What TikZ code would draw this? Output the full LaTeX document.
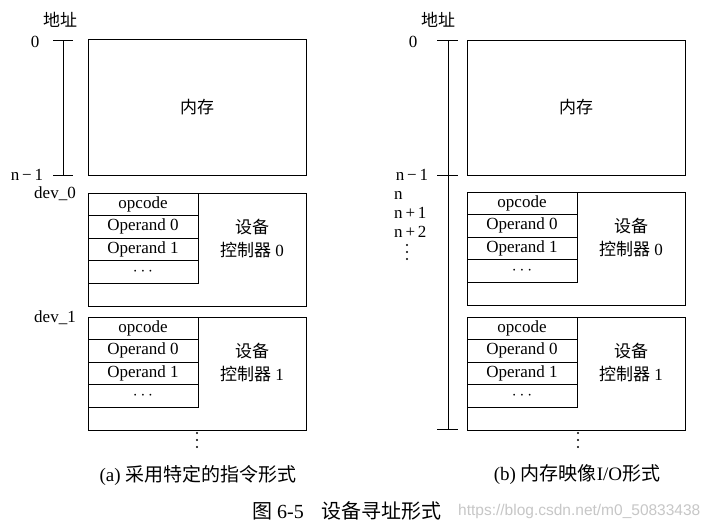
\documentclass[tikz,border=0pt]{standalone}
\usepackage{fontspec}
\setmainfont{Liberation Serif}
\newfontfamily\cjk{Noto Sans CJK SC}
\newfontfamily\wmfont{Liberation Sans}
\newcommand\devblock[3]{%
  \begin{scope}[shift={#3}]
    \node[box, minimum width=218pt, minimum height=113pt] (#1) at (0,0) {};
    \node[row] (#1r1) at (0,0) {opcode};
    \node[row] (#1r2) at (#1r1.south west) {Operand 0};
    \node[row] (#1r3) at (#1r2.south west) {Operand 1};
    \node[row] (#1r4) at (#1r3.south west) {$\cdots$};
    \node[lbl] (#1t1) at (164,34) {\cjk 设备};
    \node[lbl] (#1t2) at (164,57) {{\cjk 控制器} #2};
  \end{scope}}
\newcommand\vdotsat[2]{%
  \foreach \dd in {-7,0,7} {\fill (#1,#2+\dd) circle (1.2pt);}}
\begin{document}
\begin{tikzpicture}[x=1pt,y=-1pt,
  box/.style={draw, line width=1pt, anchor=north west, inner sep=0pt, outer sep=0pt},
  row/.style={box, minimum width=110pt, minimum height=22.5pt, font=\fontsize{17}{17}\selectfont},
  lbl/.style={inner sep=0pt, font=\fontsize{17}{17}\selectfont},
  captext/.style={inner sep=0pt, font=\fontsize{19}{19}\selectfont},
  rule/.style={line width=0.9pt}]
\fill[white] (0,0) rectangle (714,530);
\useasboundingbox (0,0) rectangle (714,530);

% ---------- left panel (a) ----------
\node[lbl] (la) at (60,20) {\cjk 地址};
\node[lbl] (l0) at (35,42) {0};
\node[lbl] (ln1) at (27,175) {n\,−\,1};
\coordinate (lta) at (53,40);  \coordinate (ltb) at (73,40);
\coordinate (lba) at (53,175); \coordinate (lbb) at (73,175);
\coordinate (lvt) at (63,40);  \coordinate (lvb) at (63,175);
\draw[rule] (lta) -- (ltb);
\draw[rule] (lba) -- (lbb);
\draw[rule] (lvt) -- (lvb);
\node[box, minimum width=218pt, minimum height=136pt] (lmem) at (88,39) {};
\node[lbl] (lmemt) at (lmem.center) {\cjk 内存};
\node[lbl] (ldev0) at (55,194) {dev\_0};
\devblock{ld0}{0}{(88,193)}
\node[lbl] (ldev1) at (55,318) {dev\_1};
\devblock{ld1}{1}{(88,317)}
\vdotsat{197}{440}
\node[captext] (capa) at (198,475) {(a) {\cjk 采用特定的指令形式}};

% ---------- right panel (b) ----------
\node[lbl] (ra) at (438,20) {\cjk 地址};
\node[lbl] (r0) at (413,42) {0};
\node[lbl] (rn1) at (412,175) {n\,−\,1};
\node[lbl, anchor=west] (rn) at (394,195) {n};
\node[lbl, anchor=west] (rnp1) at (394,213) {n\,+\,1};
\node[lbl, anchor=west] (rnp2) at (394,232) {n\,+\,2};
\vdotsat{407}{252}
\coordinate (rta) at (437,40);  \coordinate (rtb) at (458,40);
\coordinate (rma) at (437,175); \coordinate (rmb) at (458,175);
\coordinate (rba) at (437,429); \coordinate (rbb) at (458,429);
\coordinate (rvt) at (448,40);  \coordinate (rvb) at (448,429);
\draw[rule] (rta) -- (rtb);
\draw[rule] (rma) -- (rmb);
\draw[rule] (rba) -- (rbb);
\draw[rule] (rvt) -- (rvb);
\node[box, minimum width=218pt, minimum height=135pt] (rmem) at (467,40) {};
\node[lbl] (rmemt) at (rmem.center) {\cjk 内存};
\devblock{rd0}{0}{(467,192)}
\devblock{rd1}{1}{(467,317)}
\vdotsat{578}{440}
\node[captext] (capb) at (577,475) {(b) {\cjk 内存映像}I/O{\cjk 形式}};

% ---------- title ----------
\node[inner sep=0pt, font=\fontsize{20}{20}\selectfont] (title) at (347,511) {{\cjk 图} 6-5\hspace{0.9em}{\cjk 设备寻址形式}};
\node[inner sep=0pt, anchor=west, text=black!22, font=\wmfont\fontsize{15.5}{15.5}\selectfont] (wm) at (458,511) {https://blog.csdn.net/m0\_50833438};
\end{tikzpicture}
\end{document}
